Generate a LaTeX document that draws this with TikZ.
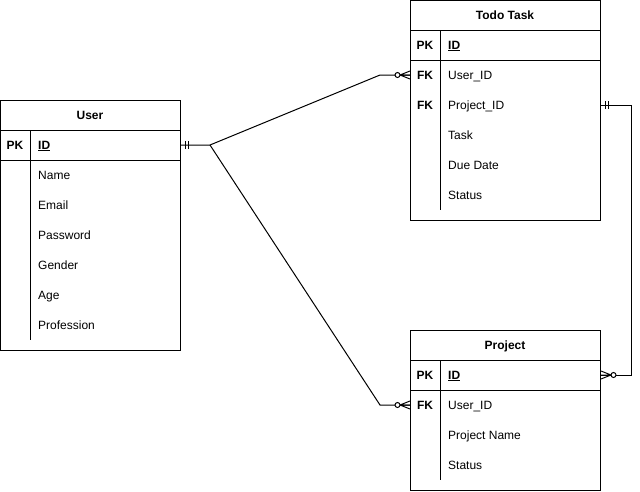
\documentclass[tikz,border=0pt]{standalone}
\usepackage{fontspec}
\setmainfont{Liberation Sans}
\usetikzlibrary{positioning, calc}

\tikzset{
  every node/.style = {text height=10pt, text depth=1.5pt},
  entity/.style = {draw, line width=1pt, anchor=north west, inner sep=0pt,
      text height=, text depth=},
  head/.style = {font=\fontsize{12}{14}\selectfont\bfseries},
  keycol/.style = {font=\fontsize{12}{14}\selectfont\bfseries},
  field/.style = {anchor=west, inner sep=0pt},
  link/.style = {line width=1pt},
  % crow's foot marks, drawn pointing to the +x side
  pics/mandone/.style = {code={
      \draw [line width=1pt] (4,-4) -- (4,4) (7,-4) -- (7,4);}},
  pics/zeromany/.style = {code={
      \draw [line width=1pt] (0,-4) -- (-10,0) -- (0,4) (0,0) -- (-10,0);
      \draw [line width=1pt, fill=white] (-12.5,0) circle (2.5);}}
}

\begin{document}
\begin{tikzpicture} [x=1pt, y=-1pt, font=\fontsize{12}{14}\selectfont]
    \useasboundingbox (0,0) rectangle (640,491);

    % User
    \node (user) [entity, minimum width=180pt, minimum height=250pt] at (0,100) {};
    \draw [line width=1pt] (0,130) -- (180,130) (0,160) -- (180,160) (30,130) -- (30,340);
    \node (userhead) [head] at (90,115) {User};
    \node [keycol] at (15,145) {PK};
    \node (userid) [field] at (38,145) {\textbf{\underline{ID}}};
    \foreach \txt [count=\i] in {Name, Email, Password, Gender, Age, Profession}
        \node [field] at (38,145+30*\i) {\txt};

    % Todo Task
    \node (todo) [entity, minimum width=190pt, minimum height=220pt] at (410,0) {};
    \draw [line width=1pt] (410,30) -- (600,30) (410,60) -- (600,60) (440,30) -- (440,210);
    \node (todohead) [head] at (505,15) {Todo Task};
    \node [keycol] at (425,45) {PK};
    \node [field] at (448,45) {\textbf{\underline{ID}}};
    \node [keycol] at (425,75) {FK};
    \node (todouser) [field] at (448,75) {User\_ID};
    \node [keycol] at (425,105) {FK};
    \node (todoproj) [field] at (448,105) {Project\_ID};
    \node [field] at (448,135) {Task};
    \node [field] at (448,165) {Due Date};
    \node [field] at (448,195) {Status};

    % Project
    \node (proj) [entity, minimum width=190pt, minimum height=160pt] at (410,330) {};
    \draw [line width=1pt] (410,360) -- (600,360) (410,390) -- (600,390) (440,360) -- (440,480);
    \node (projhead) [head] at (505,345) {Project};
    \node [keycol] at (425,375) {PK};
    \node (projid) [field] at (448,375) {\textbf{\underline{ID}}};
    \node [keycol] at (425,405) {FK};
    \node (projuser) [field] at (448,405) {User\_ID};
    \node [field] at (448,435) {Project Name};
    \node [field] at (448,465) {Status};

    % relations
    \coordinate (fork) at (210,145);
    \coordinate (uend) at (user.east |- userid);
    \coordinate (tuend) at (todo.west |- todouser);
    \coordinate (puend) at (proj.west |- projuser);
    \coordinate (tpend) at (todo.east |- todoproj);
    \coordinate (ppend) at (proj.east |- projid);

    \draw [link] (uend) -- (fork) -- ($(tuend)+(-30,0)$) -- (tuend);
    \draw [link] (fork) -- ($(puend)+(-30,0)$) -- (puend);
    \draw [link] (tpend) -- ++(30,0) |- (ppend);

    \pic at (uend) {mandone};
    \pic at (tpend) {mandone};
    \pic at (tuend) {zeromany};
    \pic at (puend) {zeromany};
    \pic [xscale=-1] at (ppend) {zeromany};
\end{tikzpicture}
\end{document}
